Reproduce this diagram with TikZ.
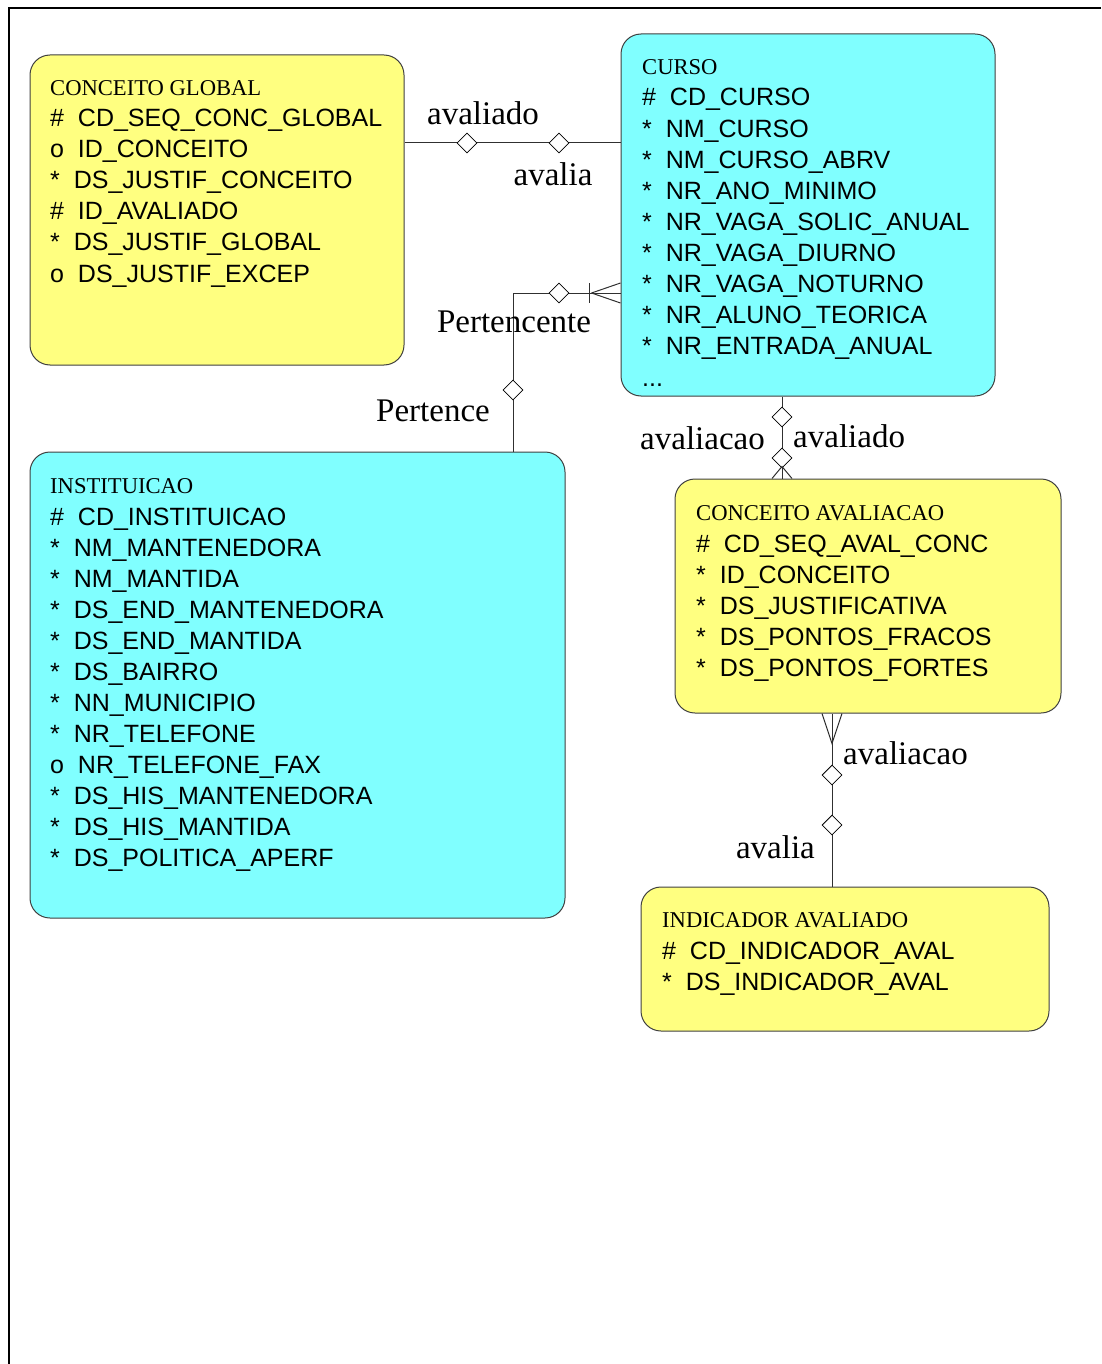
\documentclass[tikz,border=0pt]{standalone}
\usepackage{fontspec}
\setmainfont{Liberation Serif}
\newfontfamily\arialf{Liberation Sans}
\usetikzlibrary{shapes.geometric}

\definecolor{entyellow}{HTML}{FFFF80}
\definecolor{entcyan}{HTML}{80FFFF}
\definecolor{boxline}{HTML}{404040}
\definecolor{linecol}{HTML}{303030}

% attribute line: marker, two spaces, column name
\newcommand\erattr[2]{#1\hspace{0.556em}#2}

\tikzset{
  entity/.style={draw=boxline, line width=1pt, rounded corners=20pt, inner sep=0pt},
  yent/.style={entity, fill=entyellow},
  cent/.style={entity, fill=entcyan},
  etitle/.style={anchor=base west, inner sep=0pt, font=\fontsize{22.6}{26}\selectfont},
  eattr/.style={anchor=base west, inner sep=0pt, font=\arialf\fontsize{25}{30}\selectfont},
  rolelabel/.style={inner sep=0pt, font=\fontsize{33}{38}\selectfont},
  link/.style={draw=linecol, line width=1pt},
  optd/.style={diamond, draw=black, fill=white, line width=0.8pt, minimum width=20pt,
               minimum height=20pt, inner sep=0pt, aspect=1},
  crow/.style={draw=linecol, line width=1pt},
}

\begin{document}
\begin{tikzpicture}[x=1pt, y=-1pt]
\useasboundingbox (0,0) rectangle (1101,1364);

% page frame
\draw[line width=2pt] (1101,8) -- (9,8) -- (9,1364);

% entity boxes
\node[yent, minimum width=374pt, minimum height=310pt] (cg) at (217,210) {};
\node[cent, minimum width=374pt, minimum height=362pt] (cu) at (808,215) {};
\node[cent, minimum width=535pt, minimum height=466pt] (in) at (297.5,685) {};
\node[yent, minimum width=386pt, minimum height=234pt] (ca) at (868,596) {};
\node[yent, minimum width=408pt, minimum height=144pt] (ia) at (845,959) {};

% relationship: CONCEITO GLOBAL - CURSO
\draw[link] (cg.east |- 0,143) -- (cu.west |- 0,143);
\node[optd] (r1a) at (467,143) {};
\node[optd] (r1b) at (559,143) {};
\node[rolelabel] (l1a) at (483,113) {avaliado};
\node[rolelabel] (l1b) at (553,174) {avalia};

% relationship: INSTITUICAO - CURSO
\coordinate (pf) at (cu.west |- 0,293);
\draw[link] (in.north -| 513,0) |- (pf);
\draw[crow] (pf) ++(-29,0) -- ++(29,-10);
\draw[crow] (pf) ++(-29,0) -- ++(29,10);
\draw[crow] (pf) ++(-31,-10) -- ++(0,20);
\node[optd] (r2a) at (513,390) {};
\node[optd] (r2b) at (559,293) {};
\node[rolelabel] (l2a) at (514,322) {Pertencente};
\node[rolelabel, anchor=east] (l2b) at (490,411) {Pertence};

% relationship: CURSO - CONCEITO AVALIACAO
\coordinate (cf) at (ca.north -| 782,0);
\draw[link] (cu.south -| 782,0) -- (cf);
\node[optd] (r3a) at (782,417) {};
\node[optd] (r3b) at (782,458) {};
\draw[crow] (cf) ++(-10,0) -- ++(10,-12) -- ++(10,12);
\node[rolelabel, anchor=east] (l3a) at (765,438) {avaliacao};
\node[rolelabel, anchor=west] (l3b) at (793,436) {avaliado};

% relationship: CONCEITO AVALIACAO - INDICADOR AVALIADO
\coordinate (af) at (ca.south -| 832,0);
\draw[link] (af) -- (ia.north -| 832,0);
\draw[crow] (af) ++(-10,0) -- ++(10,30) -- ++(10,-30);
\node[optd] (r4a) at (832,775) {};
\node[optd] (r4b) at (832,825) {};
\node[rolelabel, anchor=west] (l4a) at (843,753) {avaliacao};
\node[rolelabel, anchor=east] (l4b) at (815,847) {avalia};

% CONCEITO GLOBAL
\node[etitle] (cg-t) at (50,96) {CONCEITO GLOBAL};
\foreach \s/\n [count=\i from 0] in {\#/CD\_SEQ\_CONC\_GLOBAL, o/ID\_CONCEITO,
    */DS\_JUSTIF\_CONCEITO, \#/ID\_AVALIADO, */DS\_JUSTIF\_GLOBAL, o/DS\_JUSTIF\_EXCEP}
  \node[eattr] (cg-a\i) at (50,127+31*\i) {\erattr{\s}{\n}};

% CURSO
\node[etitle] (cu-t) at (642,75) {CURSO};
\foreach \s/\n [count=\i from 0] in {\#/CD\_CURSO, */NM\_CURSO, */NM\_CURSO\_ABRV,
    */NR\_ANO\_MINIMO, */NR\_VAGA\_SOLIC\_ANUAL, */NR\_VAGA\_DIURNO, */NR\_VAGA\_NOTURNO,
    */NR\_ALUNO\_TEORICA, */NR\_ENTRADA\_ANUAL}
  \node[eattr] (cu-a\i) at (642,106+31.1*\i) {\erattr{\s}{\n}};
\node[eattr] (cu-more) at (642,386) {...};

% INSTITUICAO
\node[etitle] (in-t) at (50,493) {INSTITUICAO};
\foreach \s/\n [count=\i from 0] in {\#/CD\_INSTITUICAO, */NM\_MANTENEDORA, */NM\_MANTIDA,
    */DS\_END\_MANTENEDORA, */DS\_END\_MANTIDA, */DS\_BAIRRO, */NN\_MUNICIPIO,
    */NR\_TELEFONE, o/NR\_TELEFONE\_FAX, */DS\_HIS\_MANTENEDORA, */DS\_HIS\_MANTIDA,
    */DS\_POLITICA\_APERF}
  \node[eattr] (in-a\i) at (50,525+31*\i) {\erattr{\s}{\n}};

% CONCEITO AVALIACAO
\node[etitle] (ca-t) at (696,520) {CONCEITO AVALIACAO};
\foreach \s/\n [count=\i from 0] in {\#/CD\_SEQ\_AVAL\_CONC, */ID\_CONCEITO,
    */DS\_JUSTIFICATIVA, */DS\_PONTOS\_FRACOS, */DS\_PONTOS\_FORTES}
  \node[eattr] (ca-a\i) at (696,552+31*\i) {\erattr{\s}{\n}};

% INDICADOR AVALIADO
\node[etitle] (ia-t) at (662,927) {INDICADOR AVALIADO};
\foreach \s/\n [count=\i from 0] in {\#/CD\_INDICADOR\_AVAL, */DS\_INDICADOR\_AVAL}
  \node[eattr] (ia-a\i) at (662,959+31*\i) {\erattr{\s}{\n}};
\end{tikzpicture}
\end{document}
